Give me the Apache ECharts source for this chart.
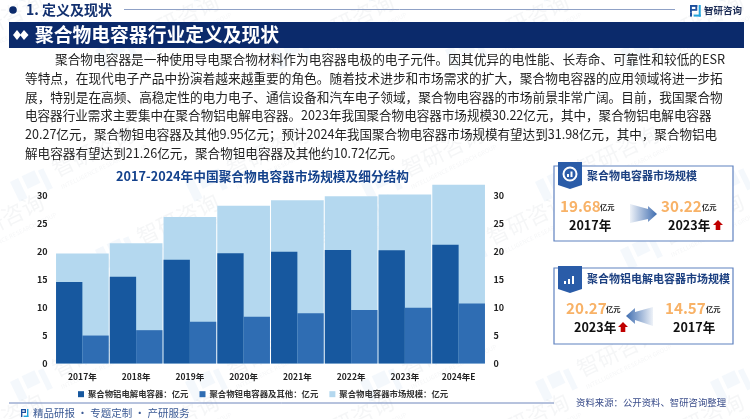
<!DOCTYPE html>
<html><head><meta charset="utf-8">
<style>html,body{margin:0;padding:0;background:#fff}#c{width:750px;height:419px}</style>
<script src="https://cdn.jsdelivr.net/npm/echarts@6/dist/echarts.min.js"></script>
</head><body><div id="c"></div>
<script>
const categories=['2017年','2018年','2019年','2020年','2021年','2022年','2023年','2024年E'];
const aluminium=[14.57,15.5,18.55,19.7,20.0,20.3,20.27,21.26];
const tantalum=[5.0,5.96,7.45,8.35,9.0,9.55,9.95,10.72];
const market=[19.68,21.5,26.2,28.2,29.2,29.9,30.22,31.98];
const seriesNames=['聚合物铝电解电容器：亿元','聚合物钽电容器及其他：亿元','聚合物电容器市场规模：亿元'];
const paragraph=[
'聚合物电容器是一种使用导电聚合物材料作为电容器电极的电子元件。因其优异的电性能、长寿命、可靠性和较低的ESR',
'等特点，在现代电子产品中扮演着越来越重要的角色。随着技术进步和市场需求的扩大，聚合物电容器的应用领域将进一步拓',
'展，特别是在高频、高稳定性的电力电子、通信设备和汽车电子领域，聚合物电容器的市场前景非常广阔。目前，我国聚合物',
'电容器行业需求主要集中在聚合物铝电解电容器。2023年我国聚合物电容器市场规模30.22亿元，其中，聚合物铝电解电容器',
'20.27亿元，聚合物钽电容器及其他9.95亿元；预计2024年我国聚合物电容器市场规模有望达到31.98亿元，其中，聚合物铝电',
'解电容器有望达到21.26亿元，聚合物钽电容器及其他约10.72亿元。'];

const FF='"Noto Sans CJK SC","Noto Sans",sans-serif';
const NAVY='#0b2a6b';
const g=[];
function T(x,y,text,size,fill,weight,align,extra){
  g.push(Object.assign({type:'text',z:20,style:{x,y,text,fill,textAlign:align||'left',textVerticalAlign:'middle',
    font:(weight||'normal')+' '+size+'px '+FF}},extra||{}));
}
function R(x,y,w,h,fill,stroke,lw){g.push({type:'rect',z:10,shape:{x,y,width:w,height:h},style:{fill:fill||'none',stroke:stroke||'none',lineWidth:lw||0}});}
function P(points,fill,z){g.push({type:'polygon',z:z||15,shape:{points},style:{fill}});}
function L(x1,y1,x2,y2,stroke,lw){g.push({type:'line',z:10,shape:{x1,y1,x2,y2},style:{stroke,lineWidth:lw||1}});}
function logo(x,y,s,c1,c2,z){
  const q=(a,b,w,h,c)=>g.push({type:'rect',z:z||15,shape:{x:x+a*s,y:y+b*s,width:w*s,height:h*s},style:{fill:c}});
  q(0,0,5,1.3,c1);q(0,0,1.3,5,c1);q(3.7,0,1.3,3,c1);q(0,2.8,5,1.2,c1);q(0,5,1.4,3,c1);
  q(6,0,1.4,8,c2);q(2.5,6.6,4.9,1.4,c2);
}
/* header */
g.push({type:'circle',z:15,shape:{cx:13,cy:10,r:3.8},style:{fill:NAVY}});
T(26,10,'1. 定义及现状',14,'#12306f','bold');
L(124,9.5,675,9.5,'#8fa1c6',1);
logo(690,5,1.45,'#1d4f9c','#22a3dc');
T(704,10,'智研咨询',9.5,'#1c2c55','bold');
R(9,22,735,26,NAVY);
P([[13,35],[17,30],[21,35],[17,40]],'#fff');
P([[20,35],[24,30],[28.5,35],[24,40]],'#fff');
T(35,35,'聚合物电容器行业定义及现状',18.8,'#fff','bold');
/* paragraph */
const ys=[59.5,78.5,97,115.5,134,153];
const sizes=[12.7,12.7,12.7,12.56,12.56,12.6];
paragraph.forEach((t,i)=>T(i?25:55,ys[i],t,sizes[i],'#222'));
/* chart title */
T(262.5,176,'2017-2024年中国聚合物电容器市场规模及细分结构',12.7,'#14428c','bold','center');
/* footer */
L(9,403,554,403,'#6f86bc',1);
logo(21,409,1.0,'#1d4f9c','#22a3dc');
T(33,413,'精品研报 · 专题定制 · 产研服务',10.5,'#3b5a95');
T(576,402,'资料来源：公开资料、智研咨询整理',9.4,'#3a4d8a');
/* cards */
function grad(a,b,dir){return new echarts.graphic.LinearGradient(dir?1:0,0,dir?0:1,0,[{offset:0,color:a},{offset:1,color:b}]);}
function ribbon(x,y){P([[x,y],[x+24,y],[x+24,y+23],[x+12,y+27],[x,y+23]],'#2a5ca8');}
function upArrow(x,y){P([[x+5,y],[x+10,y+5],[x+7.3,y+5],[x+7.3,y+10],[x+2.7,y+10],[x+2.7,y+5],[x,y+5]],'#c00000');}
function bigNum(x,y,t){T(x,y,t,15.2,'#f8b267','bold');}
function unit(x,y){T(x,y,'亿元',7.3,'#222','bold');}
function yearT(x,y,t){T(x,y,t,12.6,'#111','bold');}
R(554,166,179,75,'#fff','#5f82c0',1.2);
ribbon(558,162);
g.push({type:'circle',z:16,shape:{cx:570,cy:174,r:6.5},style:{fill:'none',stroke:'#fff',lineWidth:2}});
P([[567,177],[567,174],[569,174],[569,177]],'#fff',16);P([[570.5,177],[570.5,171.5],[572.5,171.5],[572.5,177]],'#fff',16);
T(587,176,'聚合物电容器市场规模',11,'#1b3f80','bold');
bigNum(560,206,'19.68');unit(600,207);yearT(569,225,'2017年');
bigNum(661,206,'30.22');unit(702,207);yearT(668,225,'2023年');upArrow(713,220);
P([[630,204],[648,209],[648,206],[657,214],[648,222],[648,219],[630,223]],grad('#eef2f8','#3f6db0'));
R(554,268,179,76,'#fff','#5f82c0',1.2);
ribbon(558,266);
P([[564,284],[564,281],[566,281],[566,284]],'#fff',16);P([[568,284],[568,279],[570,279],[570,284]],'#fff',16);P([[572,284],[572,276],[574,276],[574,284]],'#fff',16);
T(587,279,'聚合物铝电解电容器市场规模',11,'#1b3f80','bold');
bigNum(566,308,'20.27');unit(606,309);yearT(574,327,'2023年');upArrow(618,322);
bigNum(665,308,'14.57');unit(706,309);yearT(673,327,'2017年');
P([[653,307],[635,312],[635,308],[626,316],[635,324],[635,320],[653,326]],grad('#eef2f8','#3f6db0',true));
/* watermark tiles */
const wm='rgba(95,160,210,0.07)';
for(let r=-1;r<5;r++){for(let k=-1;k<5;k++){
  const x=k*175+(r%2?10:95), y=r*100+(r%2?32:0)+50;
  g.push({type:'group',z:40,silent:true,x,y,rotation:0.45,children:[
    {type:'rect',shape:{x:0,y:0,width:9,height:22},style:{fill:wm}},
    {type:'rect',shape:{x:13,y:0,width:14,height:14},style:{fill:wm}},
    {type:'rect',shape:{x:30,y:2,width:6,height:22},style:{fill:wm}},
    {type:'text',style:{x:44,y:8,text:'智研咨询',fill:'rgba(120,130,145,0.07)',font:'normal 22px '+FF,textVerticalAlign:'middle'}},
    {type:'text',style:{x:44,y:27,text:'INTELLIGENCE RESEARCH GROUP',fill:'rgba(120,130,145,0.07)',font:'6px '+FF,textVerticalAlign:'middle'}}
  ]});
}}
const yLab={show:true,showMaxLabel:false,color:'#222',fontSize:9,fontWeight:'bold',fontFamily:FF,margin:8};
const yBase={type:'value',min:0,max:32,interval:5,splitLine:{show:false},axisLine:{show:false},axisTick:{show:false}};
const chart=echarts.init(document.getElementById('c'),null,{renderer:'canvas'});
chart.setOption({
  animation:false,backgroundColor:'#fff',
  grid:{left:55.5,right:264.5,top:184.6,bottom:55.5},
  legend:{left:73,top:385,itemWidth:6,itemHeight:6,itemGap:11,icon:'rect',
    textStyle:{fontSize:8.4,color:'#333',fontWeight:'bold',fontFamily:FF,padding:[0,0,0,-1]},
    data:seriesNames},
  xAxis:[
    {type:'category',data:categories,axisLine:{show:false},axisTick:{show:false},
     axisLabel:{color:'#222',fontSize:8.5,fontWeight:'bold',fontFamily:FF,margin:9}},
    {type:'category',data:categories,show:false}
  ],
  yAxis:[
    Object.assign({},yBase,{position:'left',axisLabel:yLab}),
    Object.assign({},yBase,{position:'right',axisLabel:yLab})
  ],
  series:[
    {name:seriesNames[2],type:'bar',xAxisIndex:1,yAxisIndex:0,data:market,barWidth:'98%',z:1,itemStyle:{color:'#b4d8ef'}},
    {name:seriesNames[0],type:'bar',xAxisIndex:0,yAxisIndex:0,data:aluminium,barWidth:'49%',barGap:0,z:3,itemStyle:{color:'#17589f'}},
    {name:seriesNames[1],type:'bar',xAxisIndex:0,yAxisIndex:0,data:tantalum,barWidth:'49%',barGap:0,z:3,itemStyle:{color:'#2f6db3'}}
  ],
  graphic:{elements:g}
});
</script></body></html>
